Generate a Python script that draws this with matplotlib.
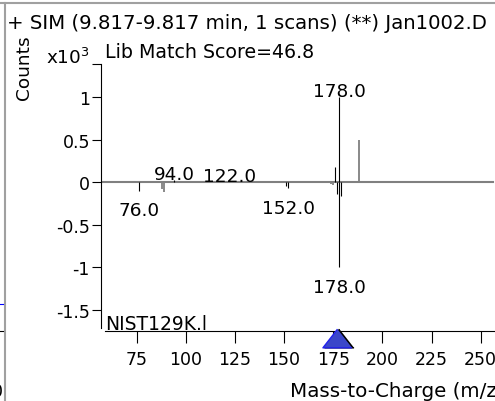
import matplotlib
matplotlib.use("Agg")
import matplotlib.pyplot as plt
import matplotlib.transforms as mtransforms
from matplotlib.lines import Line2D

# sample spectrum (pointing up)
sample_mz = [94, 97, 101, 122, 176, 178, 188]
sample_counts = [25, 6, 6, 6, 180, 1000, 490]
sample_colors = ['black', 'black', 'black', 'black', 'black', 'black', 'gray']

# library spectrum (NIST, mirrored down)
lib_mz = [76, 88, 89, 151, 152, 174, 175, 177, 178, 179]
lib_counts = [100, 80, 110, 50, 70, 20, 30, 140, 1000, 160]
lib_colors = ['black', 'gray', 'gray', 'black', 'black', 'gray', 'gray',
              'black', 'black', 'black']

sample_labels = [94, 122, 178]
lib_labels = [76, 152, 178]

sim_ion = 177

xticks = [75, 100, 125, 150, 175, 200, 225, 250]
yticks = [1, 0.5, 0, -0.5, -1, -1.5]
ytick_labels = ['1', '0.5', '0', '-0.5', '-1', '-1.5']

plt.rcParams['font.family'] = 'DejaVu Sans'

W, H = 495, 402
fig = plt.figure(figsize=(W / 100, H / 100), dpi=100)
ax = fig.add_axes([101 / W, 1 - 332 / H, 1 - 101 / W, (332 - 65) / H])
ax.set_xlim(56.84, 257.3)
ax.set_ylim(-1.746, 1.387)

# baseline
ax.axhline(0, xmin=0.005, xmax=0.995, color='gray', lw=1.5, zorder=1)

up = [c / 1000 for c in sample_counts]
down = [-c / 1000 for c in lib_counts]
lw_up = [1.3 if c == 'gray' else 0.8 for c in sample_colors]
lw_dn = [1.3 if c == 'gray' else 0.8 for c in lib_colors]
ax.vlines(sample_mz, 0, up, colors=sample_colors, lw=lw_up, zorder=2)
ax.vlines(lib_mz, 0, down, colors=lib_colors, lw=lw_dn, zorder=2)

# peak labels
for m in sample_labels:
    v = up[sample_mz.index(m)]
    ax.annotate(f'{m:.1f}', (m, v), xytext=(0, 1), textcoords='offset pixels',
                ha='center', va='baseline', fontsize=13.3)
for m in lib_labels:
    v = down[lib_mz.index(m)]
    ax.annotate(f'{m:.1f}', (m, v), xytext=(0, -24.5), textcoords='offset pixels',
                ha='center', va='baseline', fontsize=13.3)

# axes styling
for s in ['top', 'right']:
    ax.spines[s].set_visible(False)
ax.spines['left'].set_bounds(-1.71, 1.387)
ax.spines['bottom'].set_bounds(58.9, 257.3)
for s in ['left', 'bottom']:
    ax.spines[s].set_linewidth(0.8)

ax.set_xticks(xticks)
ax.set_yticks(yticks + [1.387])
ax.set_yticklabels(ytick_labels + [''])
ax.tick_params(axis='x', length=8.6, width=0.8, pad=5, labelsize=12.5)
ax.tick_params(axis='y', length=6.5, width=0.8, pad=1.5, labelsize=12.5)

# SIM ion marker on the axis
base = mtransforms.blended_transform_factory(ax.transData, ax.transAxes)
tri = [(0, 0.64), (-1, -0.64), (1, -0.64)]
shadow_tr = mtransforms.offset_copy(base, fig=fig, x=2, y=-7, units='dots')
tri_tr = mtransforms.offset_copy(base, fig=fig, x=0, y=-7, units='dots')
ax.plot([sim_ion], [0], marker=tri, ms=21, color='black', transform=shadow_tr,
        clip_on=False, zorder=5)
ax.plot([sim_ion], [0], marker=tri, ms=21, markerfacecolor='#3b47c9',
        markeredgecolor='#2222ee', mew=1, transform=tri_tr, clip_on=False, zorder=6)

# texts
fig.text(7 / W, 1 - 29 / H, '+ SIM (9.817-9.817 min, 1 scans) (**) Jan1002.D',
         fontsize=14.2, va='baseline', ha='left')
fig.text(105 / W, 1 - 58 / H, 'Lib Match Score=46.8', fontsize=13.7,
         va='baseline', ha='left')
fig.text(105 / W, 1 - 330 / H, 'NIST129K.l', fontsize=13.5, va='baseline', ha='left')
fig.text(23.5 / W, 1 - 67.5 / H, 'Counts', fontsize=13.3, rotation=90,
         va='center', ha='center')
fig.text(90 / W, 1 - 64 / H, 'x10$^3$', fontsize=13.3, va='baseline', ha='right')
fig.text(290 / W, 1 - 397 / H, 'Mass-to-Charge (m/z)', fontsize=14.3,
         va='baseline', ha='left')

# window frame and neighbour remnants
fig.add_artist(Line2D([0, 1], [1 - 3.5 / H] * 2, color='#a0a0a0', lw=1.5))
fig.add_artist(Line2D([5 / W] * 2, [0, 1 - 3.5 / H], color='#a0a0a0', lw=1.5))
fig.add_artist(Line2D([0, 2.5 / W], [1 - 305 / H] * 2, color='blue', lw=0.8))
fig.add_artist(Line2D([0, 2.5 / W], [1 - 332 / H] * 2, color='black', lw=0.8))
fig.text(2.5 / W, 1 - 397 / H, '0', fontsize=12.5, va='baseline', ha='right')

fig.savefig('out.png', dpi=100)
